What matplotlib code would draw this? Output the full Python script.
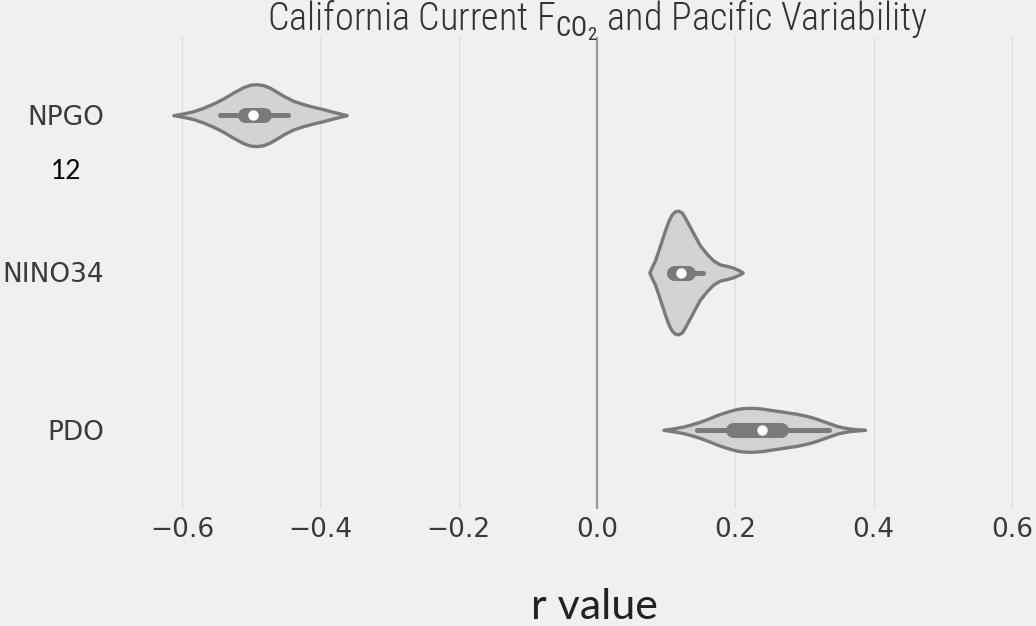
import matplotlib
matplotlib.use('Agg')
import matplotlib.pyplot as plt
from matplotlib import font_manager

# violin outlines: r value along the axis and half width at that r
npgo_r = [-0.6125, -0.5980, -0.5836, -0.5691, -0.5547, -0.5402, -0.5258, -0.5113, -0.5017,
          -0.4921, -0.4824, -0.4728, -0.4631, -0.4535, -0.4391, -0.4246, -0.4102, -0.3957,
          -0.3812, -0.3692, -0.3619]
npgo_w = [0.0, 0.011, 0.025, 0.047, 0.074, 0.106, 0.144, 0.178, 0.193,
          0.197, 0.191, 0.174, 0.149, 0.123, 0.091, 0.070, 0.053, 0.038,
          0.021, 0.008, 0.0]

nino34_r = [0.0757, 0.0790, 0.0838, 0.0887, 0.0935, 0.0983, 0.1031, 0.1080, 0.1128, 0.1176,
            0.1224, 0.1272, 0.1345, 0.1417, 0.1489, 0.1586, 0.1682, 0.1778, 0.1875, 0.1971,
            0.2067, 0.2106]
nino34_w = [0.0, 0.034, 0.076, 0.140, 0.204, 0.268, 0.327, 0.369, 0.389, 0.393,
            0.382, 0.348, 0.289, 0.229, 0.172, 0.119, 0.076, 0.051, 0.042, 0.030,
            0.011, 0.0]

pdo_r = [0.0959, 0.1055, 0.1152, 0.1248, 0.1345, 0.1441, 0.1537, 0.1634, 0.1730, 0.1827,
         0.1923, 0.2019, 0.2115, 0.2212, 0.2309, 0.2405, 0.2501, 0.2598, 0.2693, 0.2790,
         0.2887, 0.2983, 0.3079, 0.3176, 0.3272, 0.3369, 0.3465, 0.3562, 0.3658, 0.3754,
         0.3875]
pdo_w = [0.0, 0.006, 0.013, 0.021, 0.032, 0.045, 0.059, 0.076, 0.093, 0.108,
         0.121, 0.132, 0.138, 0.140, 0.138, 0.134, 0.127, 0.121, 0.115, 0.108,
         0.102, 0.093, 0.083, 0.070, 0.055, 0.040, 0.025, 0.015, 0.008, 0.004,
         0.0]

indices = ['NPGO', 'NINO34', 'PDO']
outlines = [(npgo_r, npgo_w), (nino34_r, nino34_w), (pdo_r, pdo_w)]

# inner box stats
whis_lo = [-0.545, 0.104, 0.145]
q1 = [-0.509, 0.111, 0.197]
median = [-0.498, 0.121, 0.238]
q3 = [-0.481, 0.131, 0.266]
whis_hi = [-0.446, 0.153, 0.336]

xticks = [-0.6, -0.4, -0.2, 0.0, 0.2, 0.4, 0.6]

installed = set(f.name for f in font_manager.fontManager.ttflist)
narrow = 'DejaVu Sans'
for name in ['Liberation Sans Narrow', 'Roboto Condensed', 'Open Sans Condensed']:
    if name in installed:
        narrow = name
        break
light = 'Lato' if 'Lato' in installed else 'DejaVu Sans'

plt.style.use('fivethirtyeight')
plt.rcParams['mathtext.fontset'] = 'custom'
plt.rcParams['mathtext.rm'] = narrow
plt.rcParams['mathtext.it'] = narrow

fig = plt.figure(figsize=(10.36, 6.26), dpi=100, facecolor='#f0f0f0')
ax = fig.add_axes([112.8 / 1036, 1 - 508.5 / 626, 968.4 / 1036, 472 / 626])
ax.set_facecolor('#f0f0f0')

edge = '#7a7a7a'
for i, (r, w) in enumerate(outlines):
    lower = [i - v for v in w]
    upper = [i + v for v in w]
    ax.fill_between(r, lower, upper, facecolor='#d3d3d3', edgecolor=edge,
                    linewidth=2.4, joinstyle='round', zorder=2)
    ax.plot([whis_lo[i], whis_hi[i]], [i, i], color=edge, linewidth=3.6,
            solid_capstyle='round', zorder=3)
    ax.plot([q1[i], q3[i]], [i, i], color=edge, linewidth=10.8,
            solid_capstyle='round', zorder=4)
    ax.plot(median[i], i, 'o', color='white', markersize=7.5,
            markeredgewidth=0, zorder=5)

ax.axvline(0, color='#9a9a9a', linewidth=1.6, zorder=1)

ax.set_xlim(-0.7, 0.7)
ax.set_ylim(2.5, -0.5)
ax.set_yticks(range(len(indices)))
ax.set_yticklabels(indices)
ax.set_xticks(xticks)
ax.set_xticklabels(['\u2212%.1f' % abs(t) if t < 0 else '%.1f' % t for t in xticks])
ax.grid(False)
ax.grid(True, axis='x', color='#dcdcdc', linewidth=0.9)
ax.set_axisbelow(True)
for s in ax.spines.values():
    s.set_visible(False)
ax.tick_params(axis='both', length=0, labelsize=19, labelcolor='#3a3a3a')
ax.tick_params(axis='y', pad=6)
ax.tick_params(axis='x', pad=6)
for lab in ax.get_xticklabels() + ax.get_yticklabels():
    lab.set_family('DejaVu Sans')

fig.text(0.5765, 1 - 30 / 626, r'California Current F$_{\mathrm{CO_2}}$ and Pacific Variability',
         ha='center', va='baseline', fontsize=27.5, color='#333333', family=narrow,
         fontstretch='condensed', fontweight='light')
fig.text(594 / 1036, 7 / 626, 'r value', ha='center', va='baseline',
         fontsize=31, color='#222222', family=light)
fig.text(66 / 1036, 1 - 179 / 626, '12', ha='center', va='baseline',
         fontsize=19, color='black', family=light)

fig.savefig('out.png', dpi=100, facecolor=fig.get_facecolor())
